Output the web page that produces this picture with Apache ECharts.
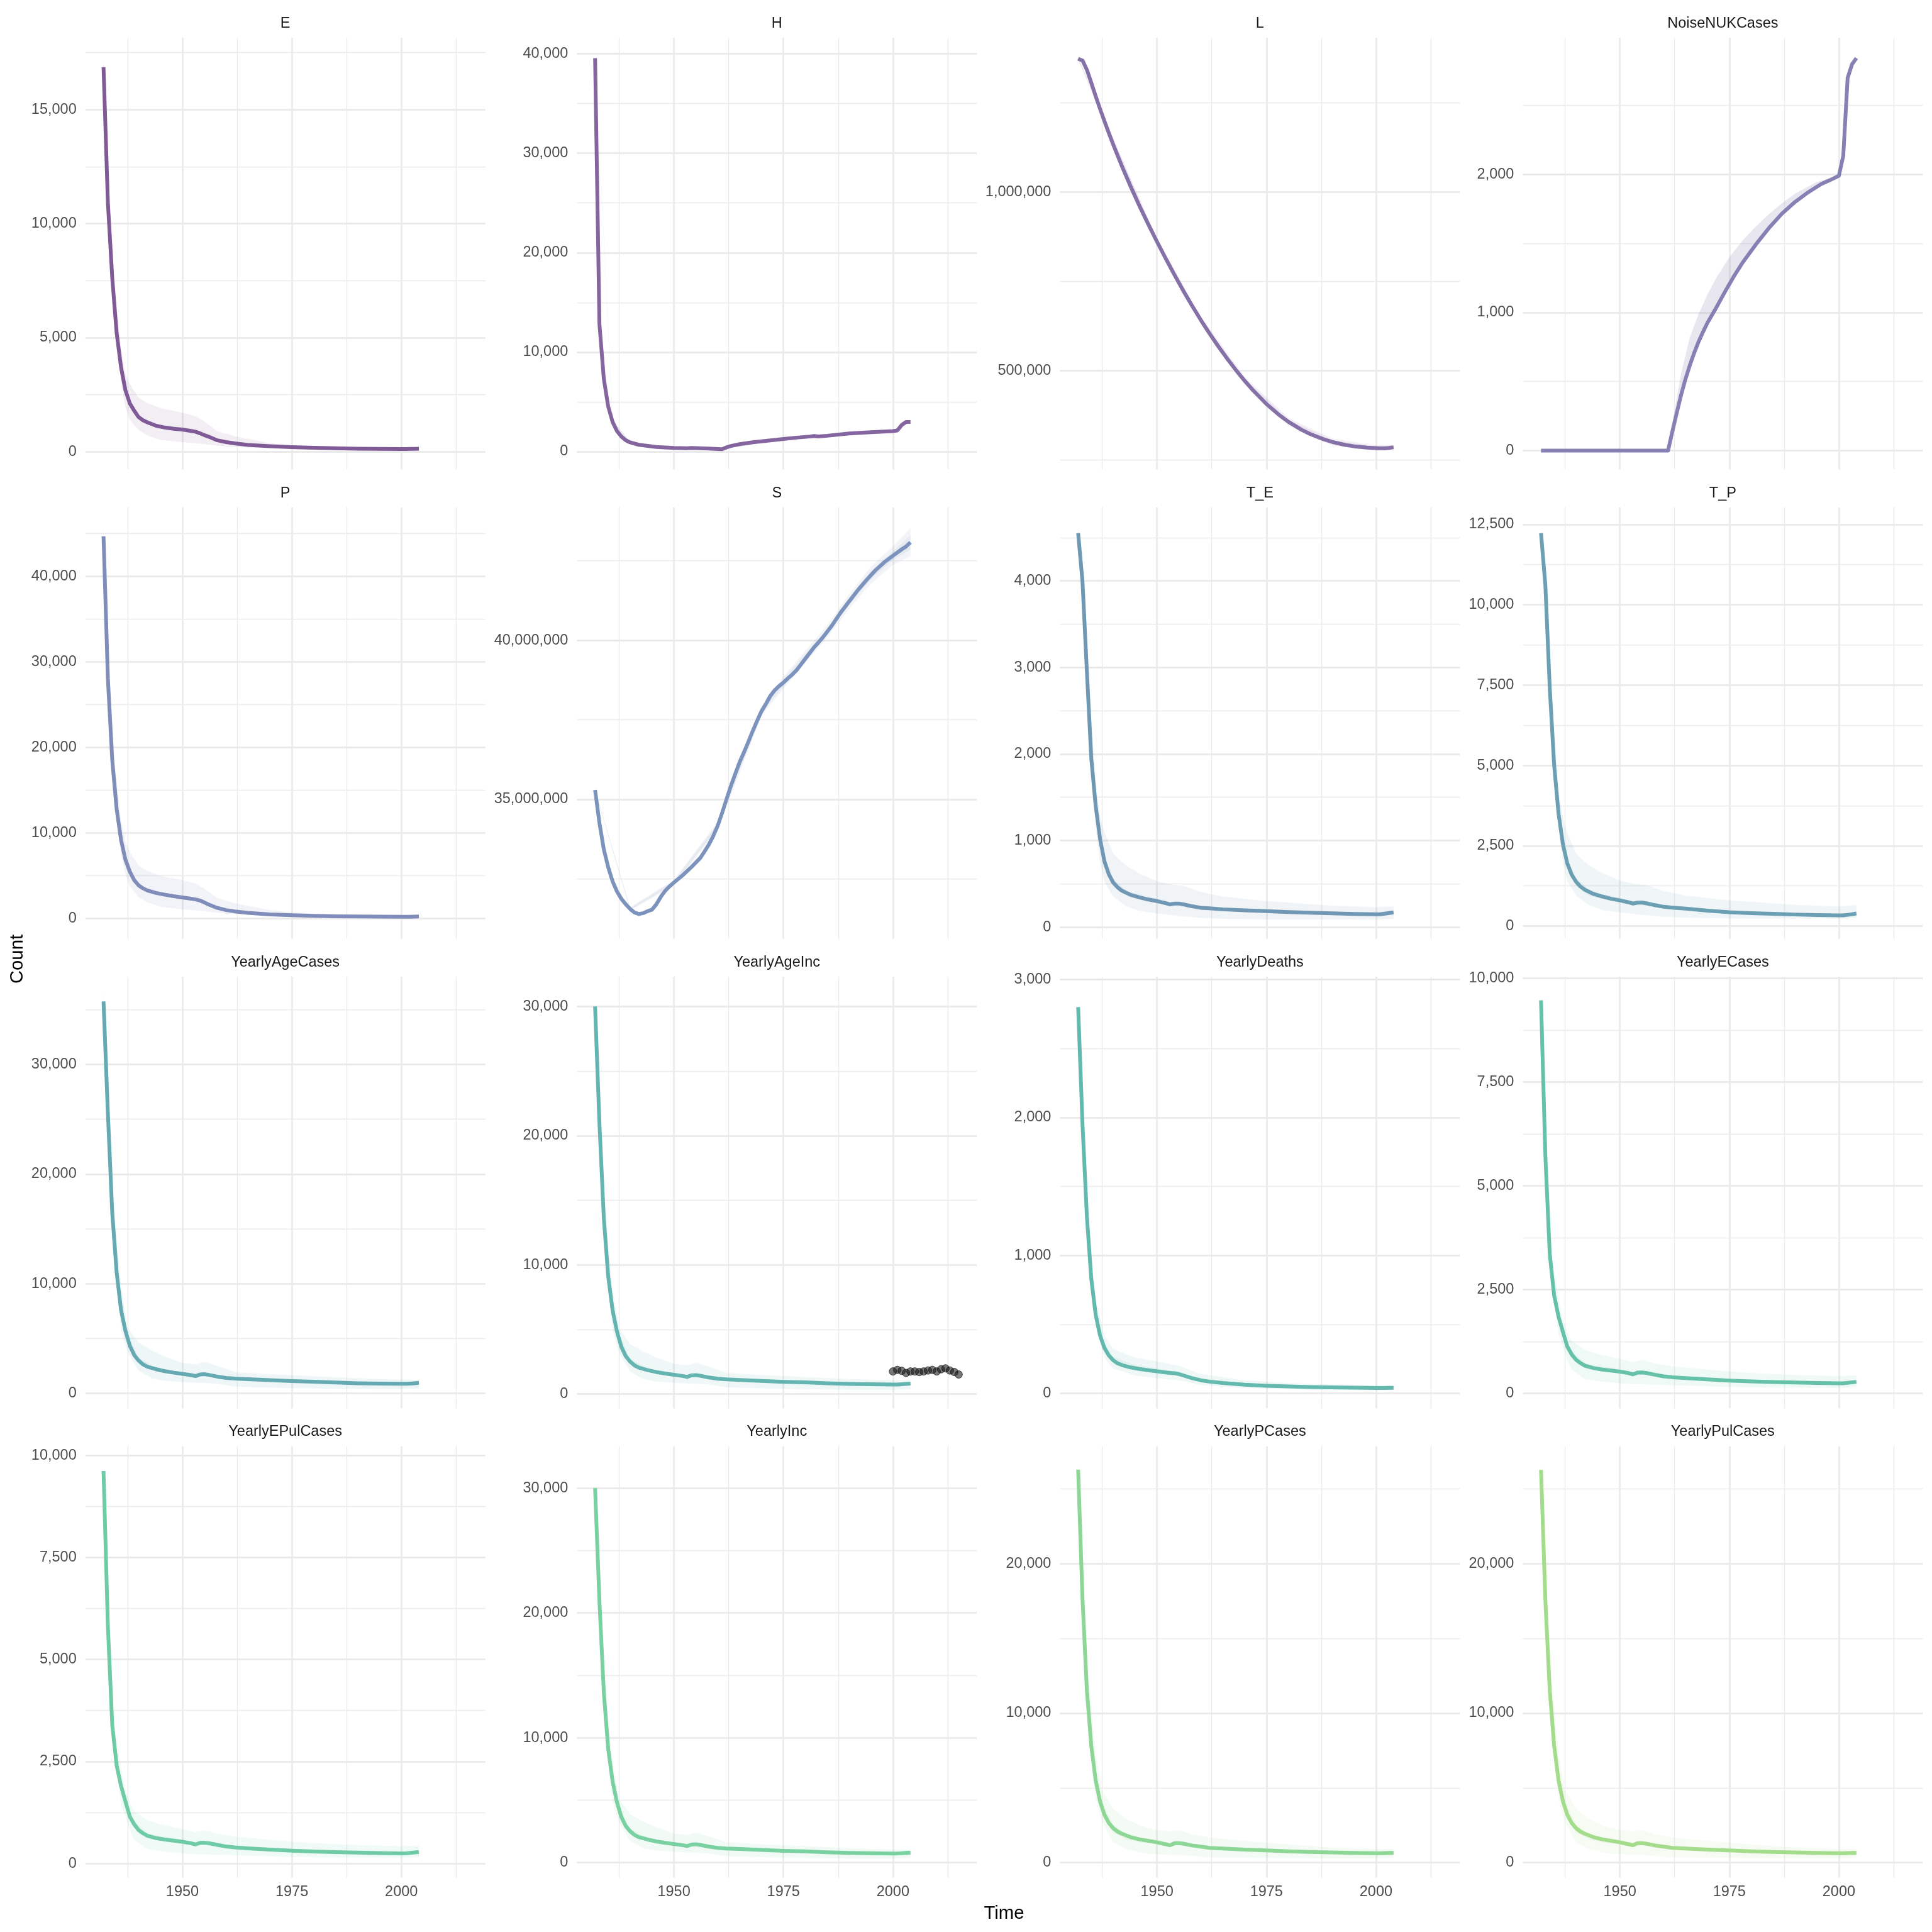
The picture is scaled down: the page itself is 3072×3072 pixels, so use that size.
<!DOCTYPE html>
<html>
<head>
<meta charset="utf-8">
<script src="https://cdn.jsdelivr.net/npm/echarts@6.0.0/dist/echarts.min.js"></script>
<style>
html,body{margin:0;padding:0;background:#fff;}
#chart{width:3072px;height:3072px;}
</style>
</head>
<body>
<div id="chart"></div>
<script>
// ---------------- DATA ----------------
const PANEL_NAMES = ["E","H","L","NoiseNUKCases","P","S","T_E","T_P","YearlyAgeCases","YearlyAgeInc","YearlyDeaths","YearlyECases","YearlyEPulCases","YearlyInc","YearlyPCases","YearlyPulCases"];
const X_TICKS = [1950, 1975, 2000];
const X_MINOR = [1937.5, 1962.5, 1987.5, 2012.5];

// line: [year, value]; ribbon: [year, outerLo, innerLo, innerHi, outerHi]
const E_line = [[1932,16860],[1933,10900],[1934,7600],[1935,5200],[1936,3700],[1937,2700],[1938,2120],[1939,1800],[1940,1520],[1941,1380],[1942,1290],[1944,1140],[1946,1060],[1948,1010],[1950,975],[1952,910],[1953,880],[1954,810],[1955,730],[1956,660],[1958,500],[1960,420],[1962,365],[1965,300],[1970,240],[1975,200],[1980,175],[1985,150],[1990,135],[1995,125],[2000,120],[2001,118],[2002,122],[2003,128],[2004,135]];
const E_ribbon = [[1932,16500,16750,16950,17200],[1934,7000,7450,7750,8300],[1936,3000,3550,3850,4500],[1937,1950,2550,2850,3410],[1938,1390,1980,2280,2950],[1940,950,1420,1620,2370],[1942,720,1200,1380,2130],[1945,520,1020,1180,1920],[1950,423,880,1066,1710],[1953,370,800,970,1560],[1955,331,660,800,1330],[1958,260,450,550,900],[1962,200,330,400,680],[1970,150,220,265,380],[1975,120,185,215,285],[1980,100,160,190,230],[1990,85,125,145,185],[2000,85,110,130,170],[2004,95,125,145,185]];

const H_line = [[1932,39560],[1933,12800],[1934,7300],[1935,4520],[1936,2980],[1937,2060],[1938,1510],[1939,1140],[1940,920],[1942,680],[1946,460],[1950,370],[1953,340],[1954,370],[1956,340],[1958,300],[1960,260],[1961,240],[1962,420],[1963,560],[1965,740],[1968,930],[1971,1080],[1975,1260],[1978,1400],[1981,1510],[1982,1560],[1983,1520],[1985,1590],[1990,1820],[1995,1950],[2000,2060],[2001,2120],[2002,2670],[2003,2980],[2004,2980]];
const H_ribbon = [[1932,39400,39500,39620,39700],[1936,2800,2930,3030,3200],[1940,830,890,950,1020],[1950,330,355,385,410],[1961,220,235,255,270],[1975,1200,1240,1280,1320],[2000,1990,2040,2080,2130],[2004,2900,2950,3010,3060]];

const L_line = [[1932,1373000],[1933,1368000],[1934,1342000],[1935,1306000],[1936,1268500],[1937,1232700],[1938,1198500],[1939,1165300],[1940,1133100],[1942,1072000],[1944,1015000],[1946,961000],[1948,910000],[1950,861000],[1952,813600],[1954,767800],[1956,723800],[1958,681800],[1960,641800],[1962,603800],[1964,567800],[1966,533800],[1968,501800],[1970,471800],[1972,443800],[1975,406300],[1978,374800],[1980,356800],[1983,334300],[1985,322300],[1988,307900],[1990,300300],[1993,291900],[1995,288100],[1998,284500],[2000,283300],[2001,282800],[2002,282800],[2003,283600],[2004,285500]];
const L_ribbon = [[1932,1370000,1371000,1375000,1378000],[1950,852000,856000,866000,870000],[1960,632000,637000,647000,652000],[1970,460000,465000,477000,483000],[1980,345000,350000,362000,368000],[1990,291000,295000,305000,310000],[2000,275000,279000,287000,291000],[2004,279000,282000,289000,292000]];

const N_line = [[1932,0],[1961,0],[1962,140],[1963,275],[1964,405],[1965,520],[1966,620],[1967,710],[1968,790],[1969,860],[1970,925],[1971,980],[1972,1035],[1974,1150],[1976,1260],[1978,1360],[1981,1490],[1984,1610],[1987,1715],[1990,1800],[1993,1870],[1996,1930],[1998,1958],[2000,1989],[2001,2133],[2002,2697],[2003,2796],[2004,2841]];
const N_ribbon = [[1961,0,0,0,0],[1962,140,140,200,200],[1964,405,405,560,560],[1966,620,620,820,820],[1968,790,790,990,990],[1970,925,925,1130,1130],[1972,1035,1035,1250,1250],[1975,1205,1205,1400,1400],[1978,1360,1360,1520,1520],[1981,1490,1490,1620,1620],[1984,1610,1610,1710,1710],[1987,1715,1715,1790,1790],[1990,1800,1800,1860,1860],[1995,1910,1910,1945,1945],[2000,1989,1989,1989,1989]];

const P_line = [[1932,44700],[1933,28000],[1934,18500],[1935,12800],[1936,9200],[1937,6900],[1938,5500],[1939,4500],[1940,3900],[1941,3550],[1942,3300],[1944,3000],[1946,2800],[1948,2620],[1950,2480],[1952,2330],[1953,2250],[1954,2120],[1955,1900],[1956,1650],[1958,1250],[1960,1000],[1962,850],[1965,680],[1970,500],[1975,400],[1980,330],[1985,280],[1990,250],[1995,230],[2000,220],[2001,220],[2002,225],[2003,235],[2004,250]];
const P_ribbon = [[1932,43500,44300,45100,45800],[1934,17000,18000,19000,20500],[1936,7500,8700,9700,11500],[1937,5200,6500,7300,9000],[1938,3800,5100,5900,7800],[1940,2500,3650,4150,6200],[1942,1900,3100,3500,5600],[1945,1400,2700,3100,5000],[1950,1100,2300,2700,4500],[1953,980,2100,2450,4100],[1955,880,1750,2050,3500],[1958,690,1150,1350,2400],[1962,530,800,920,1800],[1970,390,460,540,1000],[1975,310,370,430,750],[1980,260,300,360,600],[1990,200,230,270,480],[2000,190,205,235,440],[2004,210,235,265,480]];

const S_line = [[1932,35290000],[1933,34250000],[1934,33420000],[1935,32860000],[1936,32420000],[1937,32100000],[1938,31870000],[1939,31700000],[1940,31550000],[1941,31440000],[1942,31390000],[1943,31420000],[1944,31480000],[1945,31530000],[1946,31700000],[1947,31930000],[1948,32120000],[1949,32260000],[1950,32380000],[1952,32610000],[1954,32870000],[1956,33150000],[1957,33360000],[1958,33580000],[1959,33850000],[1960,34170000],[1961,34570000],[1962,35000000],[1963,35420000],[1964,35800000],[1965,36170000],[1966,36480000],[1967,36810000],[1968,37150000],[1969,37470000],[1970,37770000],[1971,38000000],[1972,38250000],[1973,38430000],[1974,38560000],[1975,38670000],[1976,38800000],[1977,38920000],[1978,39060000],[1979,39240000],[1980,39420000],[1981,39600000],[1982,39780000],[1983,39930000],[1984,40090000],[1986,40450000],[1988,40860000],[1990,41220000],[1992,41580000],[1994,41900000],[1996,42200000],[1998,42450000],[2000,42660000],[2002,42860000],[2003,42950000],[2004,43080000]];
const S_ribbon = [[1932,35260000,35275000,35305000,35320000],[1940,31500000,31520000,31580000,31600000],[1950,32290000,32330000,32430000,32470000],[1960,34050000,34110000,34230000,34290000],[1970,37630000,37700000,37840000,37910000],[1975,38480000,38570000,38770000,38860000],[1985,40080000,40180000,40380000,40480000],[1990,40990000,41110000,41330000,41450000],[1995,41780000,41920000,42180000,42320000],[2000,42370000,42520000,42800000,42960000],[2004,42640000,42850000,43300000,43530000]];

const TE_line = [[1932,4551],[1933,3990],[1934,2950],[1935,1950],[1936,1400],[1937,1020],[1938,760],[1939,610],[1940,515],[1941,460],[1942,420],[1944,372],[1946,343],[1948,318],[1950,300],[1952,276],[1953,262],[1954,272],[1955,272],[1956,262],[1958,240],[1960,223],[1962,216],[1965,205],[1970,194],[1975,184],[1980,173],[1985,166],[1990,159],[1995,152],[2000,148],[2001,148],[2002,155],[2003,162],[2004,170]];
const TE_ribbon = [[1932,4500,4530,4570,4620],[1934,2800,2900,3000,3150],[1936,1150,1330,1470,1700],[1937,750,930,1100,1272],[1938,520,700,830,1100],[1940,353,470,560,848],[1943,240,360,420,707],[1946,187,315,375,618],[1950,159,275,330,530],[1953,140,240,290,495],[1956,125,240,290,477],[1960,106,200,245,406],[1965,95,185,225,353],[1975,88,165,205,300],[1990,88,145,175,247],[2000,88,135,165,230],[2004,95,155,185,240]];

const TP_line = [[1932,12230],[1933,10600],[1934,7400],[1935,5000],[1936,3500],[1937,2550],[1938,1950],[1939,1600],[1940,1380],[1941,1230],[1942,1130],[1944,1000],[1946,920],[1948,850],[1950,800],[1952,740],[1953,700],[1954,730],[1955,735],[1956,710],[1958,650],[1960,600],[1962,575],[1965,545],[1970,480],[1975,430],[1980,400],[1985,380],[1990,360],[1995,345],[2000,335],[2001,335],[2002,350],[2003,370],[2004,390]];
const TP_ribbon = [[1932,12100,12180,12280,12400],[1934,6900,7200,7600,8100],[1936,3000,3300,3700,4200],[1937,2000,2350,2750,3400],[1938,1400,1800,2100,2900],[1940,950,1260,1500,2250],[1943,650,950,1120,1880],[1946,500,840,1000,1650],[1950,420,730,880,1420],[1953,380,640,770,1320],[1956,340,640,780,1280],[1960,290,540,660,1090],[1965,260,495,600,950],[1975,235,390,470,800],[1990,230,330,395,660],[2000,230,305,370,610],[2004,250,355,425,650]];

const YAC_line = [[1932,35730],[1933,25500],[1934,16400],[1935,11000],[1936,7600],[1937,5700],[1938,4350],[1939,3500],[1940,3000],[1941,2650],[1942,2430],[1944,2200],[1946,2030],[1948,1890],[1950,1780],[1952,1670],[1953,1580],[1954,1720],[1955,1750],[1956,1690],[1958,1530],[1960,1410],[1962,1350],[1965,1300],[1970,1215],[1975,1130],[1980,1070],[1985,990],[1990,930],[1995,900],[2000,875],[2001,875],[2002,900],[2003,930],[2004,960]];
const YAC_ribbon = [[1932,35300,35550,35900,36600],[1934,15000,15800,17000,18500],[1936,5800,6900,8200,9800],[1937.5,3770,4700,5500,6030],[1940,2080,2750,3250,4620],[1943,1380,2150,2550,3920],[1946,1150,1860,2200,3350],[1950,1040,1630,1930,2790],[1953,960,1480,1720,2650],[1955,960,1620,1880,2870],[1958,880,1400,1640,2500],[1962,620,1230,1460,1940],[1970,520,1100,1320,1750],[1975,480,1030,1230,1660],[1990,395,850,1010,1380],[2000,380,800,950,1260],[2004,450,880,1040,1240]];

const YAI_line = [[1932,30000],[1933,20920],[1934,13590],[1935,9090],[1936,6490],[1937,4830],[1938,3650],[1939,2930],[1940,2510],[1941,2220],[1942,2040],[1944,1850],[1946,1700],[1948,1585],[1950,1490],[1952,1400],[1953,1325],[1954,1445],[1955,1470],[1956,1420],[1958,1280],[1960,1183],[1962,1136],[1965,1090],[1970,1020],[1975,947],[1980,900],[1985,830],[1990,780],[1995,757],[2000,734],[2001,734],[2002,757],[2003,780],[2004,805]];
const YAI_ribbon = [[1932,29700,29850,30150,30500],[1934,12600,13200,14000,15500],[1936,4900,5800,6900,8200],[1937.5,3170,3950,4600,5065],[1940,1750,2310,2730,3880],[1943,1160,1800,2150,3290],[1946,970,1560,1850,2817],[1950,876,1370,1620,2343],[1953,805,1240,1440,2225],[1955,805,1360,1580,2414],[1958,740,1180,1380,2106],[1962,520,1040,1230,1633],[1970,440,930,1110,1467],[1975,402,865,1030,1396],[1990,331,715,850,1160],[2000,320,670,800,1060],[2004,379,740,870,1041]];
const YAI_observed = [[2000,1751],[2001,1870],[2002,1799],[2003,1633],[2004,1751],[2005,1751],[2006,1704],[2007,1751],[2008,1822],[2009,1870],[2010,1751],[2011,1917],[2012,1988],[2013,1822],[2014,1704],[2015,1515]];

const YD_line = [[1932,2800],[1933,1950],[1934,1280],[1935,830],[1936,570],[1937,420],[1938,330],[1939,275],[1940,240],[1941,218],[1942,205],[1944,188],[1946,177],[1948,168],[1950,160],[1952,152],[1953,148],[1954,146],[1955,140],[1956,130],[1958,110],[1960,95],[1962,85],[1965,75],[1970,63],[1975,55],[1980,50],[1985,46],[1990,43],[1995,41],[2000,39],[2001,39],[2002,39],[2003,40],[2004,40]];
const YD_ribbon = [[1932,2760,2780,2820,2858],[1934,1180,1240,1320,1400],[1936,480,530,610,680],[1938,260,300,360,420],[1940,180,215,265,320],[1945,130,165,205,260],[1950,110,145,180,230],[1955,95,125,155,200],[1960,60,82,108,140],[1970,38,55,72,95],[1980,30,43,57,75],[1990,25,37,49,65],[2000,22,34,45,60],[2004,24,35,46,60]];

const YEC_line = [[1932,9466],[1933,5700],[1934,3350],[1935,2350],[1936,1850],[1937,1480],[1938,1130],[1939,940],[1940,810],[1941,730],[1942,670],[1944,610],[1946,575],[1948,550],[1950,525],[1952,490],[1953,460],[1954,500],[1955,505],[1956,495],[1958,450],[1960,410],[1962,390],[1965,370],[1970,340],[1975,310],[1980,290],[1985,275],[1990,262],[1995,252],[2000,245],[2001,245],[2002,255],[2003,268],[2004,280]];
const YEC_ribbon = [[1932,9350,9410,9520,9590],[1934,3070,3220,3470,3670],[1936,1420,1670,2010,2300],[1937,1130,1350,1620,1760],[1938,800,1020,1230,1480],[1939,575,860,1030,1260],[1942,345,600,730,1050],[1945,295,550,660,950],[1950,248,475,580,830],[1953,222,415,510,755],[1955,222,450,555,805],[1958,212,405,495,720],[1962,198,350,425,655],[1970,172,300,370,575],[1975,157,277,340,528],[1980,147,258,318,492],[1990,138,235,290,445],[2000,133,220,272,415],[2004,148,252,308,435]];

const YEPC_line = [[1932,9617],[1933,5800],[1934,3380],[1935,2400],[1936,1900],[1937,1520],[1938,1150],[1939,960],[1940,820],[1941,740],[1942,680],[1944,620],[1946,585],[1948,560],[1950,533],[1952,495],[1953,466],[1954,505],[1955,507],[1956,497],[1958,455],[1960,415],[1962,392],[1965,372],[1970,340],[1975,312],[1980,292],[1985,278],[1990,266],[1995,256],[2000,248],[2001,248],[2002,258],[2003,270],[2004,283]];
const YEPC_ribbon = [[1932,9500,9560,9680,9750],[1934,3100,3250,3500,3700],[1936,1450,1700,2050,2350],[1937,1150,1380,1650,1788],[1938,815,1040,1250,1500],[1939,584,870,1050,1276],[1942,350,610,740,1060],[1945,300,560,670,960],[1950,251,480,585,840],[1953,225,420,515,763],[1955,225,455,560,815],[1958,215,410,500,730],[1962,200,355,430,661],[1970,175,305,375,580],[1975,159,280,345,533],[1980,149,262,322,497],[1990,140,238,294,450],[2000,135,222,275,420],[2004,150,255,312,440]];

const YI_line = [[1932,30000],[1933,20900],[1934,13600],[1935,9100],[1936,6500],[1937,4830],[1938,3650],[1939,2930],[1940,2510],[1941,2220],[1942,2040],[1944,1850],[1946,1700],[1948,1585],[1950,1490],[1952,1400],[1953,1325],[1954,1445],[1955,1470],[1956,1420],[1958,1280],[1960,1183],[1962,1136],[1965,1090],[1970,1020],[1975,947],[1980,900],[1985,830],[1990,780],[1995,757],[2000,734],[2001,734],[2002,757],[2003,780],[2004,805]];
const YI_ribbon = [[1932,29700,29850,30150,30500],[1934,12600,13200,14000,15500],[1936,4900,5800,6900,8200],[1937.5,3170,3950,4600,5065],[1940,1750,2310,2730,3880],[1943,1160,1800,2150,3290],[1946,970,1560,1850,2817],[1950,876,1370,1620,2343],[1953,805,1240,1440,2225],[1955,805,1360,1580,2414],[1958,740,1180,1380,2106],[1962,520,1040,1230,1633],[1970,440,930,1110,1467],[1975,402,865,1030,1396],[1990,331,715,850,1160],[2000,320,670,800,1060],[2004,379,740,870,1041]];

const YPC_line = [[1932,26280],[1933,17600],[1934,11500],[1935,7800],[1936,5500],[1937,4100],[1938,3200],[1939,2650],[1940,2300],[1941,2080],[1942,1930],[1944,1700],[1946,1560],[1948,1460],[1950,1360],[1952,1230],[1953,1160],[1954,1300],[1955,1304],[1956,1270],[1958,1150],[1960,1070],[1962,990],[1965,940],[1970,870],[1975,813],[1980,755],[1985,715],[1990,680],[1995,650],[2000,631],[2001,631],[2002,640],[2003,650],[2004,660]];
const YPC_ribbon = [[1932,25900,26100,26450,26700],[1934,10300,10900,12100,13500],[1936,4200,4900,6100,7300],[1937.5,2700,3300,4000,4800],[1940,1350,2000,2550,3600],[1943,900,1520,1880,2900],[1946,700,1350,1650,2500],[1948,600,1300,1580,2313],[1950,560,1230,1500,2200],[1953,520,1050,1270,2060],[1955,510,1180,1420,2173],[1958,450,1040,1260,1900],[1962,350,900,1080,1682],[1970,330,790,950,1450],[1975,322,740,890,1332],[1987.5,280,640,770,1051],[2000,280,580,690,911],[2004,322,610,720,911]];

const YPUL_line = [[1932,26260],[1933,17500],[1934,11500],[1935,7800],[1936,5500],[1937,4100],[1938,3200],[1939,2650],[1940,2300],[1941,2080],[1942,1930],[1944,1700],[1946,1560],[1948,1460],[1950,1360],[1952,1230],[1953,1163],[1954,1300],[1955,1304],[1956,1270],[1958,1150],[1960,1070],[1962,990],[1965,940],[1970,870],[1975,813],[1980,755],[1985,715],[1990,680],[1995,650],[2000,631],[2001,631],[2002,640],[2003,650],[2004,659]];
const YPUL_ribbon = [[1932,25900,26100,26450,26700],[1934,10300,10900,12100,13500],[1936,4200,4900,6100,7300],[1937.5,2700,3300,4000,4800],[1940,1350,2000,2550,3600],[1943,900,1520,1880,2900],[1946,700,1350,1650,2500],[1948,600,1300,1580,2313],[1950,561,1230,1500,2200],[1953,520,1050,1270,2060],[1955,510,1180,1420,2173],[1958,450,1040,1260,1900],[1962,350,900,1080,1682],[1970,330,790,950,1450],[1975,322,740,890,1332],[1987.5,280,640,770,1051],[2000,280,580,690,911],[2004,322,610,720,911]];

// y tick labels (major) and minor gridline values per panel
const E_yticks = [0,5000,10000,15000],            E_yminor = [2500,7500,12500,17500];
const H_yticks = [0,10000,20000,30000,40000],     H_yminor = [5000,15000,25000,35000];
const L_yticks = [500000,1000000],                L_yminor = [250000,750000,1250000];
const N_yticks = [0,1000,2000],                   N_yminor = [500,1500,2500];
const P_yticks = [0,10000,20000,30000,40000],     P_yminor = [5000,15000,25000,35000,45000];
const S_yticks = [35000000,40000000],             S_yminor = [32500000,37500000,42500000];
const TE_yticks = [0,1000,2000,3000,4000],        TE_yminor = [500,1500,2500,3500,4500];
const TP_yticks = [0,2500,5000,7500,10000,12500], TP_yminor = [1250,3750,6250,8750,11250];
const YAC_yticks = [0,10000,20000,30000],         YAC_yminor = [5000,15000,25000,35000];
const YAI_yticks = [0,10000,20000,30000],         YAI_yminor = [5000,15000,25000];
const YD_yticks = [0,1000,2000,3000],             YD_yminor = [500,1500,2500];
const YEC_yticks = [0,2500,5000,7500,10000],      YEC_yminor = [1250,3750,6250,8750];
const YEPC_yticks = [0,2500,5000,7500,10000],     YEPC_yminor = [1250,3750,6250,8750];
const YI_yticks = [0,10000,20000,30000],          YI_yminor = [5000,15000,25000];
const YPC_yticks = [0,10000,20000],               YPC_yminor = [5000,15000,25000];
const YPUL_yticks = [0,10000,20000],              YPUL_yminor = [5000,15000,25000];

// ---------------- PANEL CONFIG (scales / styles) ----------------
const panels = [
  {name:PANEL_NAMES[0],  line:E_line,   ribbon:E_ribbon,   yt:E_yticks,   ym:E_yminor,   ymin:-775,     ymax:18142,    color:'#7F5A96'},
  {name:PANEL_NAMES[1],  line:H_line,   ribbon:H_ribbon,   yt:H_yticks,   ym:H_yminor,   ymin:-1796,    ymax:41600,    color:'#8465A0'},
  {name:PANEL_NAMES[2],  line:L_line,   ribbon:L_ribbon,   yt:L_yticks,   ym:L_yminor,   ymin:223415,   ymax:1431338,  color:'#8670A8'},
  {name:PANEL_NAMES[3],  line:N_line,   ribbon:N_ribbon,   yt:N_yticks,   ym:N_yminor,   ymin:-136,     ymax:2987,     color:'#8681B4'},
  {name:PANEL_NAMES[4],  line:P_line,   ribbon:P_ribbon,   yt:P_yticks,   ym:P_yminor,   ymin:-2360,    ymax:48088,    color:'#808CB9'},
  {name:PANEL_NAMES[5],  line:S_line,   ribbon:S_ribbon,   yt:S_yticks,   ym:S_yminor,   ymin:30611000, ymax:44181000, color:'#7C94BD'},
  {name:PANEL_NAMES[6],  line:TE_line,  ribbon:TE_ribbon,  yt:TE_yticks,  ym:TE_yminor,  ymin:-136,     ymax:4850,     color:'#7097B3'},
  {name:PANEL_NAMES[7],  line:TP_line,  ribbon:TP_ribbon,  yt:TP_yticks,  ym:TP_yminor,  ymin:-397,     ymax:13032,    color:'#6B9FB3'},
  {name:PANEL_NAMES[8],  line:YAC_line, ribbon:YAC_ribbon, yt:YAC_yticks, ym:YAC_yminor, ymin:-1353,    ymax:37988,    color:'#65A9B2'},
  {name:PANEL_NAMES[9],  line:YAI_line, ribbon:YAI_ribbon, yt:YAI_yticks, ym:YAI_yminor, ymin:-1100,    ymax:32303,    color:'#64B4B1', points:YAI_observed},
  {name:PANEL_NAMES[10], line:YD_line,  ribbon:YD_ribbon,  yt:YD_yticks,  ym:YD_yminor,  ymin:-108,     ymax:3020,     color:'#63B9AD'},
  {name:PANEL_NAMES[11], line:YEC_line, ribbon:YEC_ribbon, yt:YEC_yticks, ym:YEC_yminor, ymin:-357,     ymax:10035,    color:'#66C1A9'},
  {name:PANEL_NAMES[12], line:YEPC_line,ribbon:YEPC_ribbon,yt:YEPC_yticks,ym:YEPC_yminor,ymin:-348,     ymax:10226,    color:'#6ECBA6'},
  {name:PANEL_NAMES[13], line:YI_line,  ribbon:YI_ribbon,  yt:YI_yticks,  ym:YI_yminor,  ymin:-1204,    ymax:33360,    color:'#79D0A0'},
  {name:PANEL_NAMES[14], line:YPC_line, ribbon:YPC_ribbon, yt:YPC_yticks, ym:YPC_yminor, ymin:-1005,    ymax:27847,    color:'#8CD696'},
  {name:PANEL_NAMES[15], line:YPUL_line,ribbon:YPUL_ribbon,yt:YPUL_yticks,ym:YPUL_yminor,ymin:-1005,    ymax:27847,    color:'#A3DC8A'}
];

const XMIN = 1927.85, XMAX = 2019.15;
const COL_LEFT = [135.7, 917.3, 1685.4, 2421.4];
const PW = 635.9, PH = 686.1, TOP0 = 60.3, PITCH = 746.4;
const FONT = '"Liberation Sans", Arial, Helvetica, sans-serif';
const GRID_COL = '#EBEBEB';

function rgba(hex, a) {
  const n = parseInt(hex.slice(1), 16);
  return 'rgba(' + ((n >> 16) & 255) + ',' + ((n >> 8) & 255) + ',' + (n & 255) + ',' + a + ')';
}
const fmt = v => Number(v).toLocaleString('en-US');

const grids = [], xAxes = [], yAxes = [], series = [], graphics = [];

panels.forEach((p, i) => {
  const r = Math.floor(i / 4), c = i % 4;
  const left = COL_LEFT[c], top = TOP0 + PITCH * r;
  grids.push({left: left, top: top, width: PW, height: PH, containLabel: false, outerBoundsMode: 'none'});

  xAxes.push({
    gridIndex: i, type: 'value', min: XMIN, max: XMAX, position: 'bottom',
    axisLine: {show: false},
    axisTick: {show: false, customValues: X_TICKS},
    axisLabel: {show: r === 3, customValues: X_TICKS, margin: 11, fontSize: 23.5, color: '#4D4D4D', fontFamily: FONT, formatter: v => String(v)},
    splitLine: {show: true, lineStyle: {color: GRID_COL, width: 2.8}}
  });
  xAxes.push({
    gridIndex: i, type: 'value', min: XMIN, max: XMAX, position: 'top',
    axisLine: {show: false},
    axisTick: {show: false, customValues: X_MINOR},
    axisLabel: {show: false},
    splitLine: {show: true, lineStyle: {color: GRID_COL, width: 1.4}}
  });
  yAxes.push({
    gridIndex: i, type: 'value', min: p.ymin, max: p.ymax, position: 'left',
    axisLine: {show: false},
    axisTick: {show: false, customValues: p.yt},
    axisLabel: {show: true, customValues: p.yt, margin: 14, fontSize: 23.5, color: '#4D4D4D', fontFamily: FONT, formatter: fmt},
    splitLine: {show: true, lineStyle: {color: GRID_COL, width: 2.8}}
  });
  yAxes.push({
    gridIndex: i, type: 'value', min: p.ymin, max: p.ymax, position: 'right',
    axisLine: {show: false},
    axisTick: {show: false, customValues: p.ym},
    axisLabel: {show: false},
    splitLine: {show: true, lineStyle: {color: GRID_COL, width: 1.4}}
  });

  const xi = 2 * i, yi = 2 * i;
  const rows = p.ribbon;
  const ribbon = (loIdx, hiIdx, alpha, z) => ({
    type: 'custom', xAxisIndex: xi, yAxisIndex: yi, data: rows, silent: true, z: z,
    encode: {x: 0, y: [loIdx, hiIdx]},
    renderItem: function (params, api) {
      if (params.dataIndex !== 0) return null;
      const up = rows.map(rw => api.coord([rw[0], rw[hiIdx]]));
      const lo = rows.map(rw => api.coord([rw[0], rw[loIdx]])).reverse();
      return {type: 'polygon', shape: {points: up.concat(lo)}, style: {fill: rgba(p.color, alpha), stroke: null}};
    }
  });
  series.push(ribbon(1, 4, 0.10, 1));
  series.push(ribbon(2, 3, 0.10, 2));
  series.push({
    type: 'line', xAxisIndex: xi, yAxisIndex: yi, data: p.line, showSymbol: false, symbol: 'none',
    smooth: false, silent: true, z: 3,
    lineStyle: {color: p.color, width: 6, join: 'round', cap: 'butt'},
    itemStyle: {color: p.color}
  });
  if (p.points) {
    series.push({
      type: 'scatter', xAxisIndex: xi, yAxisIndex: yi, data: p.points, symbol: 'circle', symbolSize: 12,
      silent: true, z: 4,
      itemStyle: {color: 'rgba(20,20,20,0.72)', borderColor: 'rgba(0,0,0,0.85)', borderWidth: 1}
    });
  }

  graphics.push({
    type: 'text', x: left + PW / 2, y: top - 22.6, silent: true,
    style: {text: p.name, font: '23.5px ' + FONT, fill: '#1A1A1A', textAlign: 'center', textVerticalAlign: 'middle'}
  });
});

graphics.push({
  type: 'text', x: 28, y: 1525, rotation: Math.PI / 2, silent: true,
  style: {text: 'Count', font: '29.3px ' + FONT, fill: '#000000', textAlign: 'center', textVerticalAlign: 'middle'}
});
graphics.push({
  type: 'text', x: 1596.5, y: 3043, silent: true,
  style: {text: 'Time', font: '29.3px ' + FONT, fill: '#000000', textAlign: 'center', textVerticalAlign: 'middle'}
});

const chart = echarts.init(document.getElementById('chart'), null, {renderer: 'canvas', width: 3072, height: 3072});
chart.setOption({
  backgroundColor: '#FFFFFF',
  animation: false,
  grid: grids,
  xAxis: xAxes,
  yAxis: yAxes,
  series: series,
  graphic: graphics
});
</script>
</body>
</html>
